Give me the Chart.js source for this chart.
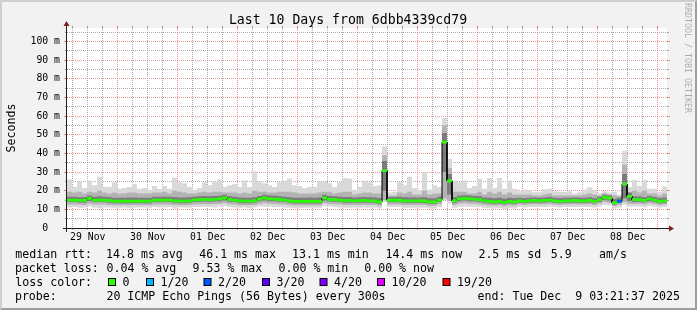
<!DOCTYPE html>
<html><head><meta charset="utf-8">
<script src="https://cdn.jsdelivr.net/npm/chart.js@4.4.1/dist/chart.umd.min.js"></script>
<style>html,body{margin:0;padding:0;background:#f2f2f2;overflow:hidden}canvas{display:block}</style>
</head><body>
<canvas id="c" width="697" height="310"></canvas>
<script>
// ---------- data (hours since 29 Nov 00:00; one column = 2 h) ----------
const titleText = 'Last 10 Days from 6dbb4339cd79';
const yAxisTitle = 'Seconds';
const watermark = 'RRDTOOL / TOBI OETIKER';
const dayLabels = ['29 Nov','30 Nov','01 Dec','02 Dec','03 Dec','04 Dec','05 Dec','06 Dec','07 Dec','08 Dec'];
const dayLabelHours = [12,36,60,84,108,132,156,180,204,228];
const yTickValues = [0,10,20,30,40,50,60,70,80,90,100];
const yTickLabels = ['0  ','10 m','20 m','30 m','40 m','50 m','60 m','70 m','80 m','90 m','100 m'];
const startHour = 3.7, endHour = 243.7, columnHours = 2;

const rttMedian = [
15.0,15.0,14.8,14.8,15.9,15.0,15.0,15.0,14.7,14.4,
14.4,14.4,14.4,14.4,14.4,14.4,14.4,15.0,15.0,15.0,
15.0,14.6,14.4,14.4,14.6,15.0,15.2,15.4,15.2,15.4,
15.6,16.2,15.2,15.0,14.5,14.4,14.4,14.6,15.5,16.2,
15.6,15.5,15.3,15.0,14.6,14.3,14.3,14.3,14.3,14.3,
14.3,16.2,15.3,15.2,15.0,14.7,14.7,14.6,14.7,14.8,
14.6,14.6,14.0,30.8,14.9,14.9,14.9,14.6,14.5,14.5,
14.5,14.5,14.0,14.0,15.0,46.1,25.3,14.6,15.6,15.9,
15.6,15.5,15.2,14.6,14.3,14.0,14.3,13.8,14.3,14.0,
14.6,14.3,14.6,14.8,14.6,14.8,15.0,14.6,14.3,14.6,
14.6,14.8,14.6,14.6,14.8,14.3,15.2,16.5,16.0,13.6,
14.4,23.6,17.0,15.2,15.2,14.8,15.6,15.0,14.3,14.6];
const rttMax = [
26,22,25,21.5,25.5,23,27.5,22,22,24.5,
21,21.5,22,23.5,21,21.5,20.5,22.5,21,22.5,
21,27,24.5,24,22,20.5,21.5,24.5,23,25,
26,22,23,23.5,22,25.5,22,30.5,25,24,
23,22,24.5,25.5,26.5,23,22.5,21.5,22,22,
25,25,24,22,24.5,26.8,26.5,20.5,22,25.5,
24.5,22.5,23,43.7,19,19.5,24.5,23,27.5,21.5,
20.5,30,20.5,23,22,59,37,25.5,24.5,25.5,
21.5,22.5,26.3,21,26.8,21.5,26.8,21,25.5,21,
19.7,20.6,20.3,19.2,19.5,20.8,21,19.7,19.5,19.3,
19.7,18.5,19.2,20.6,21.8,20.5,18.7,19.7,19,19.5,
18,41.4,22,25.9,22.5,25.9,21,21,19.5,22.3];
const rttHigh = [
19.5,19,19.5,18.5,19.5,19,20,19,18.5,19,
18.5,18.5,19,19,18.5,18.5,18.5,19,19,19.5,
18.5,20,19.5,19,18.5,18.5,19,19.5,19,19.5,
19.5,19,19,19,18.5,19,18.5,20,19.5,19.5,
19,19,19.5,19.5,19.5,19,18.5,18.5,18.5,18.5,
19,19.5,19.5,18.5,19,19.5,19.5,18,18.5,19,
19,18.5,18.5,39,17.5,17.5,19,18.5,19.5,18,
18,20,18,18.5,18.5,55,32,19.5,19.5,19.5,
18.5,18.5,19.5,18,19.5,18.5,19.5,18,19,18,
18,18,18,17.5,17.5,18,18.5,17.5,17.5,17.5,
17.5,17.5,17.5,18,18.5,18,17.5,18.5,18,17.5,
17,34,19,20,19,20,18.5,18.5,17.5,18.5];
const rttQ3 = [
16.8,16.8,16.5,16.5,17.5,16.8,17,16.8,16.5,16.2,
16.2,16.2,16.3,16.3,16.2,16.2,16.2,16.8,16.8,16.8,
16.8,16.6,16.3,16.3,16.5,16.8,17,17.2,17,17.2,
17.3,17.8,17,16.8,16.3,16.2,16.2,16.5,17.2,17.8,
17.4,17.3,17,16.8,16.5,16.2,16.2,16.2,16.3,16.2,
16.3,17.8,17.2,17,16.8,16.6,16.6,16.4,16.5,16.6,
16.5,16.4,16,36,16.6,16.6,16.8,16.5,16.4,16.4,
16.3,16.5,16,16,16.8,51,29,16.5,17.3,17.6,
17.4,17.2,17,16.4,16.2,15.9,16.2,15.7,16.2,15.9,
16.2,16,16.2,16.4,16.2,16.4,16.6,16.2,16,16.2,
16.2,16.4,16.2,16.2,16.5,16,16.8,17.8,17.4,15.5,
16.2,29,19,17,16.9,16.5,17.2,16.6,16,16.3];
const rttQ1 = [
13.9,13.9,13.7,13.7,14.5,13.9,13.9,13.9,13.6,13.3,
13.3,13.3,13.3,13.3,13.3,13.3,13.3,13.9,13.9,13.9,
13.9,13.5,13.3,13.3,13.5,13.9,14.1,14.2,14.1,14.2,
14.4,14.8,14.1,13.9,13.4,13.3,13.3,13.5,14.3,14.8,
14.4,14.3,14.1,13.9,13.5,13.2,13.2,13.2,13.2,13.2,
13.2,14.8,14.2,14.1,13.9,13.6,13.6,13.5,13.6,13.7,
13.5,13.5,13,20,13.8,13.8,13.8,13.5,13.4,13.4,
13.4,13.4,13,13,13.9,30,18,13.5,14.4,14.7,
14.4,14.3,14.1,13.5,13.2,13,13.2,12.8,13.2,13,
13.6,13.3,13.6,13.7,13.6,13.7,13.9,13.6,13.3,13.6,
13.6,13.7,13.6,13.6,13.7,13.3,14.1,15.2,14.8,12.6,
13.4,16,14.5,14,14.1,13.8,14.4,13.9,13.3,13.6];
const rttLow = [
12.6,12.6,12.5,12.4,13,12.6,12.6,12.6,12.4,12.2,
12.2,12.2,12.2,12.3,12.2,12.2,12.2,12.6,12.6,12.6,
12.6,12.4,12.2,12.2,12.4,12.6,12.8,12.9,12.8,12.9,
13,13.4,12.8,12.6,12.2,12.2,12.2,12.4,13,13.3,
13,13,12.8,12.6,12.4,12.1,12.1,12.1,12.1,12.1,
12.1,13.3,12.9,12.8,12.6,12.4,12.4,12.4,12.4,12.5,
12.4,12.4,12,15,12.6,12.6,12.6,12.4,12.3,12.3,
12.3,12.3,12,12,12.7,16,14.5,12.4,13,13.3,
13,13,12.8,12.4,12.1,11.9,12.1,11.7,12.1,11.9,
12.6,12.3,12.6,12.7,12.6,12.7,12.9,12.6,12.3,12.6,
12.6,12.7,12.6,12.6,12.7,12.3,13,14,13.6,11.8,
12.3,14,13,12.9,13,12.8,13.3,12.9,12.3,12.6];
const rttMin = [
11,11.2,10.8,11,11.5,11,10.6,11,11,10.8,
10.8,11,10.6,10.9,11,11,10.8,11.2,11,11,
11.2,10.5,11,11,10.8,11.2,11.2,11.4,11.2,11,
11.5,11.8,11.3,11,10.8,11,10.6,11,11.5,11.6,
11.5,11.3,11.2,11,10.8,10.7,10.7,10.9,10.8,10.8,
10.9,11.8,11.5,11.2,11,10.8,10.8,11,10.8,11,
10.9,10.9,10.5,14,11.2,11.2,11.2,10.9,10.8,10.8,
10.8,10.8,10.4,10.4,11.2,15,13,10.8,11.4,11.6,
11.4,11.4,11.2,10.8,10.6,10.4,10.6,10.2,10.6,10.4,
11.2,11,11.2,11.3,11.2,11.3,11.5,11.2,11,11.2,
11.2,11.3,11.2,11.2,11.3,11,11.5,12.5,12.2,10.4,
11,12.5,11.5,11.5,11.5,11.3,11.8,11.4,11,11.2];
const lossCount = [
0,0,0,0,0,0,0,0,0,0, 0,0,0,0,0,0,0,0,0,0, 0,0,0,0,0,0,0,0,0,0,
0,0,0,0,0,0,0,0,0,0, 0,0,0,0,0,0,0,0,0,0, 0,0,0,0,0,0,0,0,0,0,
0,0,0,0,0,0,0,0,0,0, 0,0,0,0,0,0,0,0,0,0, 0,0,0,0,0,0,0,0,0,0,
0,0,0,0,0,0,0,0,0,0, 0,0,0,0,0,0,0,0,0,0, 2,0,0,0,0,0,0,0,0,0];
const lossLevels = [0,1,2,3,4,10,19];
const lossLabels = ['0','1/20','2/20','3/20','4/20','10/20','19/20'];
const lossColors = ['#26ff00','#00b8ff','#0059ff','#5e00ff','#7e00ff','#dd00ff','#ff0000'];
const legendMedian = ['median rtt:','14.8 ms avg','46.1 ms max','13.1 ms min','14.4 ms now','2.5 ms sd','5.9','am/s'];
const legendLoss = ['packet loss:','0.04 % avg','9.53 % max','0.00 % min','0.00 % now'];
const legendColorTitle = 'loss color:';
const legendProbe = ['probe:','20 ICMP Echo Pings (56 Bytes) every 300s','end: Tue Dec  9 03:21:37 2025'];

// ---------- helpers ----------
function colStart(i){ return startHour + columnHours*i; }
function steps(arr, keep){
  const pts = [];
  arr.forEach((v,i)=>{ if(!keep || keep(i)){ pts.push({x:colStart(i),y:v},{x:colStart(i+1),y:v}); if(keep) pts.push({x:colStart(i+1),y:null}); } });
  return pts;
}
function lossIndex(n){ let k=0; lossLevels.forEach((l,j)=>{ if(n>=l) k=j; }); return k; }
const BAND = 0.75; // half thickness of the median marker, ms
const datasets = [];
function band(lo, hi, color, order, keep){
  datasets.push({data:steps(lo,keep), borderWidth:0, pointRadius:0, fill:false, order, spanGaps:false});
  datasets.push({data:steps(hi,keep), borderWidth:0, pointRadius:0, fill:'-1', backgroundColor:color, order, spanGaps:false});
}
band(rttMin, rttMax, '#d9d9d9', 9);
band(rttLow, rttHigh, '#b3b3b3', 8);
band(rttQ1, rttQ3, '#7c7c7c', 7);
datasets.push({data:steps(rttMedian), borderColor:'#000', borderWidth:1, pointRadius:0, fill:false, order:6});
lossLevels.forEach((lvl,j)=>{
  const keep = j===0 ? null : (i)=>lossIndex(lossCount[i])===j;
  if (j>0 && !lossCount.some((n,i)=>keep(i))) return;
  band(rttMedian.map(v=>v-BAND), rttMedian.map(v=>v+BAND), lossColors[j], 5-Math.min(j,4), keep);
});

// ---------- drawing plugin (frame, grid, axes, texts) ----------
const MONO = '"DejaVu Sans Mono", monospace';
const rrd = {
  id:'rrd',
  beforeDraw(chart){
    const {ctx, width:W, height:H, chartArea:a} = chart;
    ctx.save();
    ctx.fillStyle='#f2f2f2'; ctx.fillRect(0,0,W,H);
    ctx.fillStyle='#cfcfcf';
    ctx.beginPath(); ctx.moveTo(0,0); ctx.lineTo(0,H); ctx.lineTo(2,H-2); ctx.lineTo(2,2); ctx.lineTo(W-2,2); ctx.lineTo(W,0); ctx.closePath(); ctx.fill();
    ctx.fillStyle='#9e9e9e';
    ctx.beginPath(); ctx.moveTo(0,H); ctx.lineTo(W,H); ctx.lineTo(W,0); ctx.lineTo(W-2,2); ctx.lineTo(W-2,H-2); ctx.lineTo(2,H-2); ctx.closePath(); ctx.fill();
    ctx.fillStyle='#ffffff'; ctx.fillRect(a.left,a.top,a.right-a.left,a.bottom-a.top);
    ctx.restore();
  },
  beforeDatasetsDraw(chart){
    const {ctx, chartArea:a, scales:{x:xs,y:ys}} = chart;
    const L=a.left, R=a.right, T=a.top, B=a.bottom;
    const minor='rgba(143,143,143,0.75)', major='rgba(222,79,79,0.6)';
    ctx.save(); ctx.lineWidth=1;
    const seg=(x1,y1,x2,y2)=>{ctx.beginPath();ctx.moveTo(x1,y1);ctx.lineTo(x2,y2);ctx.stroke();};
    for(let v=5; v<=ys.max; v+=5){
      const y=Math.floor(ys.getPixelForValue(v))+0.5, isMaj=v%10===0;
      ctx.strokeStyle=isMaj?major:minor;
      ctx.setLineDash([1,1]); seg(L-2,y,R+2,y);
      ctx.setLineDash([]); seg(L-(isMaj?3:2),y,L,y); seg(R,y,R+(isMaj?3:2),y);
    }
    for(let t=Math.ceil(xs.min/6)*6; t<=xs.max; t+=6){
      const x=Math.floor(xs.getPixelForValue(t))+0.5, isMaj=t%24===0;
      ctx.strokeStyle=isMaj?major:minor;
      ctx.setLineDash([1,1]); seg(x,T-2,x,B+2);
      ctx.setLineDash([]); seg(x,T-2,x,T); seg(x,B,x,B+2);
    }
    ctx.restore();
  },
  afterDatasetsDraw(chart){
    const {ctx, chartArea:a} = chart;
    const L=a.left, R=a.right, T=a.top, B=a.bottom;
    ctx.save(); ctx.lineWidth=1; ctx.strokeStyle='#1f1f1f';
    ctx.beginPath(); ctx.moveTo(L-4,B+0.5); ctx.lineTo(R+4,B+0.5); ctx.stroke();
    ctx.beginPath(); ctx.moveTo(L-0.5,B+4); ctx.lineTo(L-0.5,T-4); ctx.stroke();
    ctx.fillStyle='#801f1f';
    ctx.beginPath(); ctx.moveTo(R+2,B-2.5); ctx.lineTo(R+2,B+3.5); ctx.lineTo(R+7,B+0.5); ctx.closePath(); ctx.fill();
    ctx.beginPath(); ctx.moveTo(L-3.5,T-2); ctx.lineTo(L+2.5,T-2); ctx.lineTo(L-0.5,T-7); ctx.closePath(); ctx.fill();
    ctx.restore();
  },
  afterDraw(chart){
    const {ctx, width:W} = chart;
    ctx.save();
    ctx.fillStyle='#000'; ctx.textBaseline='alphabetic';
    ctx.font='13.2px '+MONO; ctx.textAlign='center';
    ctx.fillText(titleText, 348, 24);
    ctx.font='11.6px '+MONO;
    ctx.save(); ctx.translate(15,128); ctx.rotate(-Math.PI/2); ctx.textAlign='center'; ctx.fillText(yAxisTitle,0,0); ctx.restore();
    ctx.save(); ctx.translate(W-12,58); ctx.rotate(Math.PI/2); ctx.textAlign='center'; ctx.font='8.3px '+MONO; ctx.fillStyle='rgba(0,0,0,0.3)'; ctx.fillText(watermark,0,0); ctx.restore();
    ctx.textAlign='left';
    const row1X=[15.3,106,199.2,292,385.4,478.4,550.7,599.1];
    legendMedian.forEach((s,i)=>ctx.fillText(s,row1X[i],258));
    const row2X=[14.9,106.5,192.5,278.5,364.2];
    legendLoss.forEach((s,i)=>ctx.fillText(s,row2X[i],272));
    ctx.fillText(legendColorTitle,15.3,286);
    const boxX=[108,146,203.5,262,319.5,377,442.5];
    lossLabels.forEach((s,i)=>{
      ctx.fillStyle='#000'; ctx.fillRect(boxX[i],278,8,8);
      ctx.fillStyle=lossColors[i]; ctx.fillRect(boxX[i]+1,279,6,6);
      ctx.fillStyle='#000'; ctx.fillText(s,boxX[i]+14.5,286);
    });
    const row4X=[14.9,106.4,477.5];
    legendProbe.forEach((s,i)=>ctx.fillText(s,row4X[i],300));
    ctx.restore();
  }
};

new Chart(document.getElementById('c'), {
  type:'line',
  data:{datasets},
  options:{
    responsive:false, animation:false, devicePixelRatio:1, events:[],
    layout:{padding:{left:0,right:30,top:28,bottom:52}},
    plugins:{legend:{display:false},tooltip:{enabled:false},title:{display:false}},
    elements:{point:{radius:0},line:{tension:0}},
    scales:{
      x:{type:'linear',min:startHour,max:endHour,
         grid:{display:false,drawTicks:false},border:{display:false},
         afterBuildTicks:s=>{s.ticks=dayLabelHours.map(v=>({value:v}));},
         afterFit:s=>{s.height=30;},
         ticks:{autoSkip:false,maxRotation:0,padding:4,color:'#000',font:{family:MONO,size:9.8},
                callback:(v,i)=>dayLabels[i]}},
      y:{type:'linear',min:0,max:107.3,
         grid:{display:false,drawTicks:false},border:{display:false},
         afterBuildTicks:s=>{s.ticks=yTickValues.map(v=>({value:v}));},
         afterFit:s=>{s.width=67;},
         ticks:{autoSkip:false,padding:7,color:'#000',font:{family:MONO,size:9.8},
                callback:(v,i)=>yTickLabels[i]}}
    }
  },
  plugins:[rrd]
});
</script></body></html>
